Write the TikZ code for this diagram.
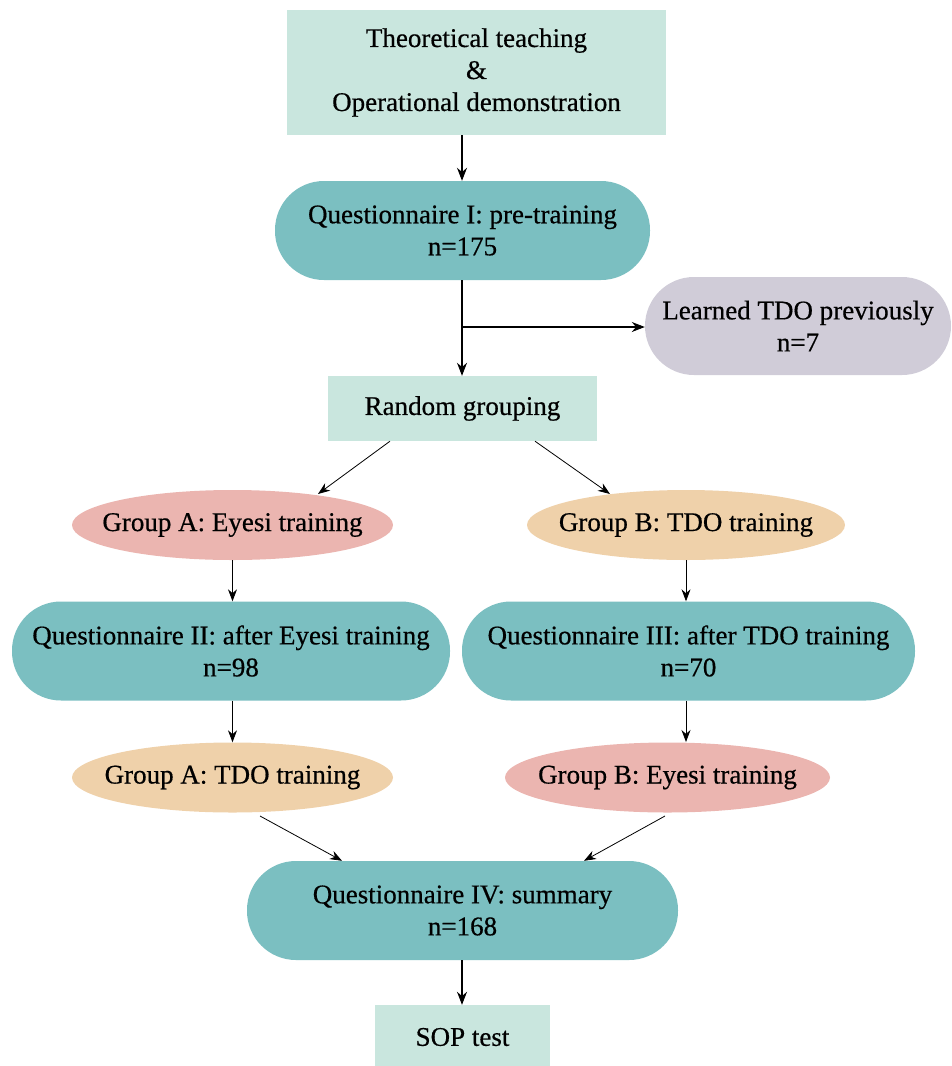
\documentclass[tikz,border=0pt]{standalone}
\usepackage{fontspec}
\setmainfont{Liberation Serif}[UprightFeatures={FakeBold=0.5}]
\usetikzlibrary{shapes.geometric,arrows.meta}
\definecolor{mint}{HTML}{C9E6DE}
\definecolor{teal2}{HTML}{7BBFC1}
\definecolor{lav}{HTML}{D0CCD8}
\definecolor{pinkc}{HTML}{EBB5B0}
\definecolor{peach}{HTML}{EFD1AA}
\tikzset{
  txt/.style={align=center,font=\fontsize{27}{32}\selectfont,inner sep=0pt,text=black},
  sqbox/.style={txt,fill=mint,draw=none},
  pill/.style={txt,fill=teal2,draw=none,rounded corners=49pt,minimum height=99pt},
  grey/.style={txt,fill=lav,draw=none,rounded corners=49pt,minimum height=98pt},
  ell/.style={ellipse,draw=none,inner sep=0pt,minimum height=70pt},
  arr/.style={-{Stealth[length=13pt,width=10pt]},line width=1.1pt},
  arrt/.style={-{Stealth[length=12pt,width=9pt]},line width=0.8pt}
}
\begin{document}
\begin{tikzpicture}[x=1pt,y=-1pt]
\useasboundingbox (0,0) rectangle (952,1066);
\node[sqbox,minimum width=379pt,minimum height=125pt] (top) at (476.5,72.5) {Theoretical teaching\\\&\\Operational demonstration};
\node[pill,minimum width=375pt] (q1) at (462.5,230.5) {Questionnaire I: pre-training\\n=175};
\node[grey,minimum width=306pt] (lt) at (798,326) {Learned TDO previously\\n=7};
\node[sqbox,minimum width=269pt,minimum height=65pt] (rg) at (462.5,408.5) {Random grouping};
\node[ell,fill=pinkc,minimum width=321pt] (ga) at (232.5,525) {};
\node[txt] (gatxt) at (ga.center) {Group A: Eyesi training};
\node[ell,fill=peach,minimum width=318pt] (gb) at (686,525) {};
\node[txt] (gbtxt) at (gb.center) {Group B: TDO training};
\node[pill,minimum width=438pt] (q2) at (231,651) {Questionnaire II: after Eyesi training\\n=98};
\node[pill,minimum width=453pt] (q3) at (688.5,651) {Questionnaire III: after TDO training\\n=70};
\node[ell,fill=peach,minimum width=321pt] (gat) at (232.5,777.5) {};
\node[txt] (gattxt) at (gat.center) {Group A: TDO training};
\node[ell,fill=pinkc,minimum width=325pt] (gbe) at (667.5,777.5) {};
\node[txt] (gbetxt) at (gbe.center) {Group B: Eyesi training};
\node[pill,minimum width=431pt] (q4) at (462.5,910.5) {Questionnaire IV: summary\\n=168};
\node[sqbox,minimum width=175pt,minimum height=64pt] (sop) at (462.5,1037) {SOP test};
\coordinate (br) at (462,327);
\draw[arr] (top.south -| 462,0) -- (q1.north -| 462,0);
\draw[arr] (q1.south -| 462,0) -- (rg.north -| 462,0);
\draw[arr] (br) -- (br -| lt.west);
\draw[arrt] (rg.south -| 390,0) -- (318,494);
\draw[arrt] (rg.south -| 535,0) -- (610,494);
\draw[arrt] (ga.south) -- (q2.north -| ga.south);
\draw[arrt] (gb.south) -- (q3.north -| gb.south);
\draw[arrt] (q2.south -| ga.south) -- (gat.north);
\draw[arrt] (q3.south -| gb.south) -- (686,742);
\draw[arrt] (260,816) -- (q4.north -| 342,0);
\draw[arrt] (665,816) -- (q4.north -| 584,0);
\draw[arr] (q4.south -| 462,0) -- (sop.north -| 462,0);
\end{tikzpicture}
\end{document}
